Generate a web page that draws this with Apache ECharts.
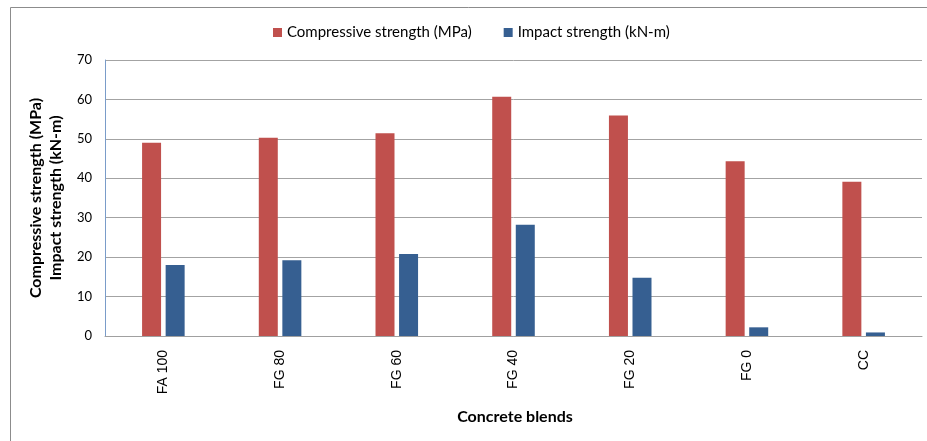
<!DOCTYPE html>
<html>
<head>
<meta charset="utf-8">
<style>
  html, body { margin: 0; padding: 0; background: #fff; }
  #chart { width: 927px; height: 441px; }
</style>
<script src="https://cdn.jsdelivr.net/npm/echarts@6/dist/echarts.min.js"></script>
</head>
<body>
<div id="chart"></div>
<script>
// Concrete blend results
const blends = ['FA 100', 'FG 80', 'FG 60', 'FG 40', 'FG 20', 'FG 0', 'CC'];
const compressiveStrength = [49.0, 50.3, 51.4, 60.7, 55.9, 44.3, 39.1]; // MPa
const impactStrength = [18.0, 19.2, 20.8, 28.2, 14.8, 2.2, 0.9];        // kN-m
const yTicks = { min: 0, max: 70, step: 10 };

const titleFont = 'Lato, "Open Sans", sans-serif';

const chart = echarts.init(document.getElementById('chart'));
chart.setOption({
  animation: false,
  backgroundColor: '#ffffff',
  legend: {
    top: 20,
    left: 268,
    itemWidth: 9,
    itemHeight: 9,
    itemGap: 32,
    icon: 'rect',
    textStyle: { fontFamily: titleFont, fontSize: 15, color: '#000' },
    data: ['Compressive strength (MPa)', 'Impact strength (kN-m)']
  },
  grid: { left: 105, right: 5, top: 60, bottom: 105, containLabel: false },
  xAxis: {
    type: 'category',
    data: blends,
    axisLine: { show: true, lineStyle: { color: '#a0a0a0', width: 1 } },
    axisTick: { show: false },
    axisLabel: {
      rotate: 90,
      margin: 14,
      fontFamily: 'Liberation Sans, Arial, sans-serif',
      fontSize: 14,
      color: '#000'
    }
  },
  yAxis: {
    type: 'value',
    min: yTicks.min,
    max: yTicks.max,
    interval: yTicks.step,
    name: 'Compressive strength (MPa)\nImpact strength (kN-m)',
    nameLocation: 'middle',
    nameRotate: 90,
    nameGap: 35,
    nameTextStyle: {
      fontFamily: titleFont,
      fontSize: 16,
      fontWeight: 'bold',
      color: '#000',
      lineHeight: 20
    },
    axisLine: { show: true, lineStyle: { color: '#7a9cc9', width: 1 } },
    axisTick: { show: false },
    axisLabel: {
      margin: 13,
      fontFamily: titleFont,
      fontSize: 13,
      color: '#000'
    },
    splitLine: { show: true, lineStyle: { color: '#a3a3a3', width: 1 } }
  },
  series: [
    {
      name: 'Compressive strength (MPa)',
      type: 'bar',
      data: compressiveStrength,
      barWidth: 19,
      barGap: '24%',
      itemStyle: { color: '#c0504d' }
    },
    {
      name: 'Impact strength (kN-m)',
      type: 'bar',
      data: impactStrength,
      barWidth: 19,
      barGap: '24%',
      itemStyle: { color: '#365f91' }
    }
  ],
  graphic: [
    // outer frame (top and left edges)
    { type: 'line', shape: { x1: 10.5, y1: 7.5, x2: 927, y2: 7.5 }, style: { stroke: '#8c8c8c', lineWidth: 1 } },
    { type: 'line', shape: { x1: 10.5, y1: 7.5, x2: 10.5, y2: 441 }, style: { stroke: '#8c8c8c', lineWidth: 1 } },
    {
      type: 'text',
      x: 515,
      y: 417,
      style: {
        text: 'Concrete blends',
        font: 'bold 16px ' + titleFont,
        fill: '#000',
        align: 'center',
        verticalAlign: 'middle'
      }
    }
  ]
});
</script>
</body>
</html>
